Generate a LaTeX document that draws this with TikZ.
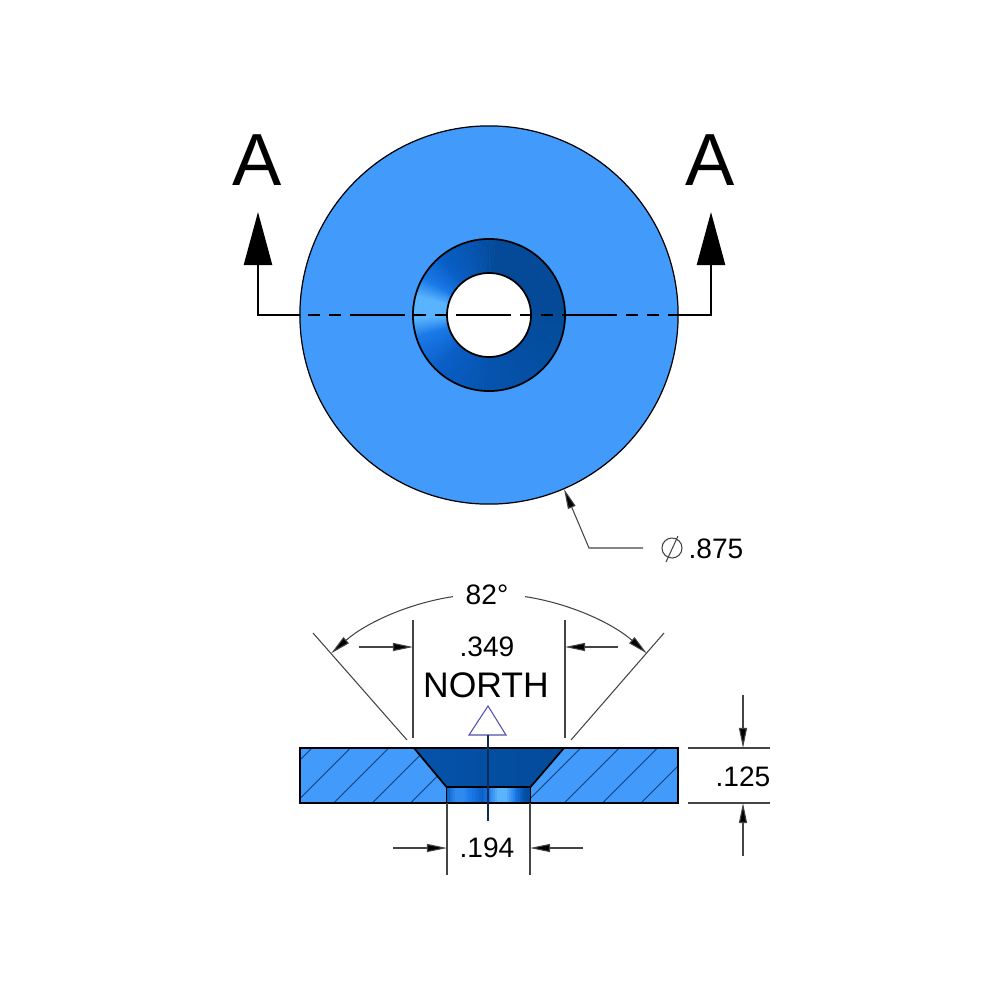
\documentclass[tikz,border=0pt]{standalone}
\usepackage{fontspec}
\setmainfont{Liberation Sans}
\usepackage{tikz}
\usetikzlibrary{arrows.meta,calc}
\definecolor{magnetblue}{HTML}{429BFA}
\definecolor{hatchblue}{HTML}{123F80}
\definecolor{ringdeep}{HTML}{044A98}
\definecolor{ringdark}{HTML}{0553AC}
\definecolor{ringmid}{HTML}{0A5FC6}
\definecolor{ringlift}{HTML}{1A78E8}
\definecolor{ringglow}{HTML}{5AB4FF}
\definecolor{boreshine}{HTML}{2F8AEE}
\definecolor{boreend}{HTML}{03468F}
\definecolor{leadgray}{HTML}{444444}
\definecolor{northblue}{HTML}{5050B0}
\tikzset{
  partedge/.style = {draw=black, line width=.35pt},
  holeedge/.style = {draw=black, line width=.5pt},
  cutline/.style = {black, line width=.7pt},
  cutarrow/.style = {cutline, -{Triangle[length=5.3mm, width=2.8mm]}},
  extline/.style = {leadgray, line width=.3pt},
  dimarrow/.style = {extline, -{Triangle[length=2mm, width=.8mm, fill=black]}},
  hatchline/.style = {hatchblue, line width=.25pt},
  dimtext/.style = {inner sep=0pt, font=\fontsize{8}{8}\selectfont},
}

\begin{document}
\begin{tikzpicture}[x=.01cm, y=.01cm]
\useasboundingbox (0,0) rectangle (1000,-1000);

% top view: disc
\coordinate (ctr) at (489,-315);
\fill[magnetblue] (ctr) circle[radius=1.89cm];
\draw[partedge] (ctr) circle[radius=1.89cm];

% top view: countersink, colour goes round the ring
\begin{scope}
  \clip (ctr) circle[radius=.76cm];
  \foreach \angA/\colA/\angB/\colB in {
    0/ringdeep/85/ringdeep, 85/ringdeep/100/ringdark, 100/ringdark/130/ringmid,
    130/ringmid/150/ringlift, 150/ringlift/165/ringglow, 165/ringglow/182/ringglow,
    182/ringglow/197/ringlift, 197/ringlift/225/ringmid, 225/ringmid/270/ringdark,
    270/ringdark/360/ringdeep}{
    \foreach \k in {0,10,...,90}{
      \pgfmathsetmacro{\angS}{\angA+(\angB-\angA)*\k/100}
      \pgfmathsetmacro{\angE}{\angA+(\angB-\angA)*(\k+10)/100}
      \filldraw[fill=\colB!\k!\colA, draw=\colB!\k!\colA, line width=.1pt]
        (ctr) -- ++(\angS:.9cm) -- ($(ctr)+(\angE:.9cm)$) -- cycle;
    }
  }
\end{scope}
\draw[holeedge] (ctr) circle[radius=.76cm];
\filldraw[fill=white, holeedge] (ctr) circle[radius=.42cm];

% cutting plane A-A
\coordinate (cutW) at (258,-315);
\coordinate (cutE) at (711,-315);
\coordinate (tipW) at (258,-212);
\coordinate (tipE) at (711,-212);
\coordinate (edgeW) at (300,-315);
\coordinate (edgeE) at (669,-315);
\coordinate (dashW) at (308,-315);
\draw[cutarrow] (edgeW) -- (cutW) -- (tipW);
\draw[cutarrow] (edgeE) -- (cutE) -- (tipE);
\draw[cutline, dash pattern=on 1.2mm off .9mm on 1.2mm off .9mm on 5.5mm off .9mm] (dashW) -- (edgeE);
\node[inner sep=0pt, font=\fontsize{21}{21}\selectfont] (markW) at (257,-160.5) {A};
\node[inner sep=0pt, font=\fontsize{21}{21}\selectfont] (markE) at (710,-160.5) {A};

% diameter leader
\coordinate (rimpt) at (564,-489);
\coordinate (elbow) at (589,-548);
\coordinate (leadend) at (643,-548);
\draw[dimarrow] (leadend) -- (elbow) -- (rimpt);
\node[circle, draw=leadgray, line width=.3pt, minimum size=.2cm, inner sep=0pt] (phi) at (672,-548) {};
\coordinate (phiA) at (666,-562);
\coordinate (phiB) at (678,-536);
\draw[extline] (phiA) -- (phiB);
\node[dimtext] (dia) at (716,-549) {.875};

% section view: body and hatching
\begin{scope}
  \clip (300,-748) rectangle (678,-803);
  \fill[magnetblue] (300,-748) rectangle (678,-803);
  \foreach \t in {312,350.4,...,697}{
    \draw[hatchline] (\t,-748) -- (\t-55,-803);
  }
\end{scope}

% section view: countersink and bore
\coordinate (sinkW) at (414,-748);
\coordinate (sinkE) at (564,-748);
\coordinate (boreW) at (446.5,-787);
\coordinate (boreE) at (530.5,-787);
\coordinate (baseW) at (446.5,-803);
\coordinate (baseE) at (530.5,-803);
\shade[left color=ringdark, right color=ringdeep] (sinkW) -- (sinkE) -- (boreE) -- (boreW) -- cycle;
\foreach \xA/\colA/\xB/\colB in {
  446.5/ringmid/455/boreshine, 455/boreshine/463/boreshine, 463/boreshine/470/ringlift,
  470/ringlift/482/ringmid, 482/ringmid/488/ringlift, 488/ringlift/497/ringglow,
  497/ringglow/505/ringglow, 505/ringglow/515/ringlift, 515/ringlift/523/ringdark,
  523/ringdark/530.5/boreend}{
  \foreach \k in {0,20,...,80}{
    \pgfmathsetmacro{\xS}{\xA+(\xB-\xA)*\k/100}
    \pgfmathsetmacro{\xE}{\xA+(\xB-\xA)*(\k+20)/100}
    \filldraw[fill=\colB!\k!\colA, draw=\colB!\k!\colA, line width=.1pt]
      (\xS,-787) rectangle (\xE,-803);
  }
}
\draw[holeedge] (sinkW) -- (boreW) (sinkE) -- (boreE);
\draw[holeedge] (boreW) -- (boreE) -- (baseE) -- (baseW) -- cycle;
\draw[black, line width=.6pt] (300,-748) rectangle (678,-803);

% north marker and axis
\node[inner sep=0pt, font=\fontsize{10.1}{10.1}\selectfont] (north) at (486,-685) {NORTH};
\coordinate (triTop) at (488,-706);
\coordinate (triW) at (469,-735);
\coordinate (triE) at (506,-735);
\coordinate (triBase) at (488,-735);
\coordinate (axisEnd) at (488,-821);
\draw[northblue, line width=.3pt] (triTop) -- (triE) -- (triW) -- cycle;
\draw[hatchblue!70!black, line width=.3pt] (triBase) -- (axisEnd);

% .349 dimension
\coordinate (extWa) at (413,-620);
\coordinate (extWb) at (413,-738);
\coordinate (extEa) at (565,-620);
\coordinate (extEb) at (565,-738);
\coordinate (topW) at (359,-647);
\coordinate (hitW) at (413,-647);
\coordinate (topE) at (618,-647);
\coordinate (hitE) at (565,-647);
\draw[extline] (extWa) -- (extWb);
\draw[extline] (extEa) -- (extEb);
\draw[dimarrow] (topW) -- (hitW);
\draw[dimarrow] (topE) -- (hitE);
\node[dimtext] (dtop) at (487,-647) {.349};

% 82 degree dimension
\coordinate (apex) at (489,-833);
\coordinate (slantWa) at (313,-633);
\coordinate (slantWb) at (407,-740);
\coordinate (slantEa) at (664,-633);
\coordinate (slantEb) at (571,-740);
\draw[extline] (slantWa) -- (slantWb);
\draw[extline] (slantEa) -- (slantEb);
\coordinate (gapW) at ($(apex)+(98.7:2.39cm)$);
\coordinate (gapE) at ($(apex)+(81.3:2.39cm)$);
\draw[dimarrow] (gapW) arc[start angle=98.7, end angle=131.3, radius=2.39cm];
\draw[dimarrow] (gapE) arc[start angle=81.3, end angle=48.7, radius=2.39cm];
\node[dimtext] (dang) at (487,-595) {82°};

% .194 dimension
\coordinate (lowWa) at (447,-803);
\coordinate (lowWb) at (447,-875);
\coordinate (lowEa) at (530,-803);
\coordinate (lowEb) at (530,-875);
\coordinate (lowW) at (393,-848);
\coordinate (lowWh) at (447,-848);
\coordinate (lowE) at (583,-848);
\coordinate (lowEh) at (530,-848);
\draw[extline] (lowWa) -- (lowWb);
\draw[extline] (lowEa) -- (lowEb);
\draw[dimarrow] (lowW) -- (lowWh);
\draw[dimarrow] (lowE) -- (lowEh);
\node[dimtext] (dbore) at (487,-848) {.194};

% .125 dimension
\coordinate (thkTa) at (688,-748);
\coordinate (thkTb) at (770,-748);
\coordinate (thkBa) at (688,-803);
\coordinate (thkBb) at (770,-803);
\coordinate (thkU) at (743,-695);
\coordinate (thkUh) at (743,-748);
\coordinate (thkD) at (743,-856);
\coordinate (thkDh) at (743,-803);
\draw[extline] (thkTa) -- (thkTb);
\draw[extline] (thkBa) -- (thkBb);
\draw[dimarrow] (thkU) -- (thkUh);
\draw[dimarrow] (thkD) -- (thkDh);
\node[dimtext] (dthk) at (743,-777) {.125};

\end{tikzpicture}
\end{document}
